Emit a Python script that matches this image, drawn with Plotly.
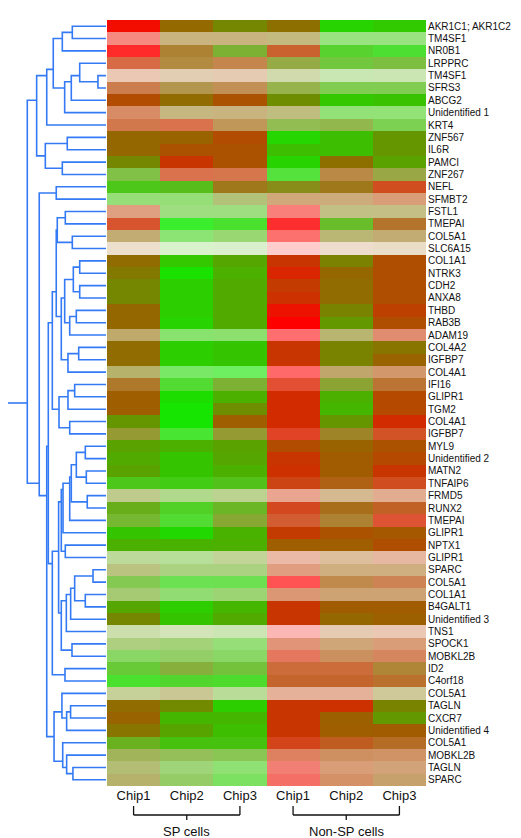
import plotly.graph_objects as go

W, H = 521, 838

genes = ["AKR1C1; AKR1C2", "TM4SF1", "NR0B1", "LRPPRC", "TM4SF1", "SFRS3", "ABCG2",
         "Unidentified 1", "KRT4", "ZNF567", "IL6R", "PAMCI", "ZNF267", "NEFL", "SFMBT2",
         "FSTL1", "TMEPAI", "COL5A1", "SLC6A15", "COL1A1", "NTRK3", "CDH2", "ANXA8", "THBD",
         "RAB3B", "ADAM19", "COL4A2", "IGFBP7", "COL4A1", "IFI16", "GLIPR1", "TGM2", "COL4A1",
         "IGFBP7", "MYL9", "Unidentified 2", "MATN2", "TNFAIP6", "FRMD5", "RUNX2", "TMEPAI",
         "GLIPR1", "NPTX1", "GLIPR1", "SPARC", "COL5A1", "COL1A1", "B4GALT1", "Unidentified 3",
         "TNS1", "SPOCK1", "MOBKL2B", "ID2", "C4orf18", "COL5A1", "TAGLN", "CXCR7",
         "Unidentified 4", "COL5A1", "MOBKL2B", "TAGLN", "SPARC"]

chip_labels = ["Chip1", "Chip2", "Chip3", "Chip1", "Chip2", "Chip3"]
groups = ["SP cells", "Non-SP cells"]
group_columns = [[0, 1, 2], [3, 4, 5]]

# expression ratio per gene and chip (-1 = green, +1 = red)
ratio = [
    [0.9, 0.1, -0.15, 0.05, -0.8, -0.72],
    [0.85, 0.1, 0.1, 0.0, -0.7, -0.7],
    [1.0, 0.15, -0.35, 0.45, -0.7, -0.85],
    [0.55, 0.15, 0.3, -0.2, -0.55, -0.45],
    [0.4, 0.2, 0.3, -0.2, -0.5, -0.45],
    [0.4, 0.1, 0.25, -0.25, -0.55, -0.55],
    [0.35, 0.08, 0.3, -0.2, -0.7, -0.65],
    [0.45, 0.05, 0.1, -0.05, -0.7, -0.7],
    [0.45, 0.55, 0.2, -0.35, -0.3, -0.6],
    [0.12, 0.15, 0.35, -0.82, -0.62, -0.28],
    [0.12, 0.3, 0.3, -0.62, -0.62, -0.28],
    [-0.15, 0.55, 0.3, -0.8, 0.05, -0.38],
    [-0.45, 0.55, 0.5, -0.85, 0.2, -0.15],
    [-0.65, -0.55, 0.1, -0.1, 0.1, 0.55],
    [-0.65, -0.65, -0.2, 0.25, 0.2, 0.4],
    [0.45, -0.6, -0.6, 0.9, -0.05, -0.03],
    [0.6, -1.0, -0.85, 1.0, -0.5, 0.25],
    [0.1, -0.75, -0.55, 0.95, -0.05, 0.1],
    [0.2, -0.6, -0.55, 0.95, 0.3, 0.15],
    [0.08, -0.7, -0.42, 0.55, -0.1, 0.33],
    [-0.03, -0.92, -0.5, 0.68, 0.12, 0.33],
    [-0.15, -0.75, -0.45, 0.5, 0.08, 0.33],
    [-0.15, -0.75, -0.45, 0.58, 0.08, 0.33],
    [0.12, -0.75, -0.45, 0.85, -0.12, 0.45],
    [0.12, -0.8, -0.45, 1.0, -0.3, 0.33],
    [0.08, -0.75, -0.7, 1.0, -0.05, 0.55],
    [0.08, -0.75, -0.68, 0.55, -0.12, 0.0],
    [0.08, -0.75, -0.68, 0.55, -0.12, 0.15],
    [-0.05, -0.85, -0.95, 1.0, 0.12, 0.35],
    [0.2, -0.8, -0.35, 0.7, -0.2, 0.3],
    [0.2, -0.88, -0.5, 0.63, -0.5, 0.38],
    [0.2, -0.95, -0.2, 0.63, -0.55, 0.38],
    [-0.28, -0.95, 0.2, 0.63, -0.28, 0.63],
    [-0.1, -0.9, -0.1, 0.7, 0.05, 0.55],
    [-0.38, -0.5, -0.38, 0.35, 0.15, 0.3],
    [-0.45, -0.68, -0.42, 0.55, 0.22, 0.38],
    [-0.38, -0.68, -0.5, 0.58, 0.22, 0.55],
    [-0.65, -0.7, -0.6, 0.55, 0.28, 0.55],
    [-0.2, -0.45, -0.3, 0.6, 0.2, 0.45],
    [-0.4, -0.7, -0.45, 0.6, 0.2, 0.4],
    [-0.42, -0.8, -0.25, 0.55, 0.15, 0.65],
    [-0.68, -0.85, -0.52, 0.5, 0.3, 0.25],
    [-0.5, -0.52, -0.5, 0.2, 0.2, 0.33],
    [-0.4, -0.5, -0.25, 0.5, 0.25, 0.45],
    [-0.15, -0.4, -0.4, 0.5, 0.2, 0.2],
    [-0.5, -0.8, -0.78, 1.0, 0.25, 0.4],
    [-0.35, -0.65, -0.5, 0.45, 0.25, 0.25],
    [-0.42, -0.75, -0.55, 0.55, 0.22, 0.22],
    [-0.15, -0.68, -0.45, 0.55, 0.12, 0.18],
    [-0.3, -0.35, -0.45, 0.9, 0.3, 0.4],
    [-0.35, -0.45, -0.65, 0.55, 0.25, 0.4],
    [-0.6, -0.5, -0.6, 0.65, 0.3, 0.45],
    [-0.6, -0.3, -0.5, 0.45, 0.45, 0.15],
    [-0.85, -0.75, -0.8, 0.42, 0.42, 0.3],
    [-0.2, -0.05, -0.45, 0.45, 0.45, 0.0],
    [0.08, -0.18, -0.75, 0.55, 0.58, -0.12],
    [0.15, -0.55, -0.55, 0.55, 0.18, -0.3],
    [0.0, -0.4, -0.62, 0.55, 0.2, 0.22],
    [-0.42, -0.62, -0.62, 0.6, 0.4, 0.28],
    [-0.2, -0.35, -0.45, 0.55, 0.35, 0.35],
    [-0.15, -0.5, -0.7, 0.8, 0.4, 0.3],
    [-0.05, -0.45, -0.75, 0.85, 0.4, 0.2],
]

# washed-out level of each cell (0 = saturated, 1 = white)
pale = [
    [0, 0, 0, 0, 0, 0],
    [0.5, 0.5, 0.5, 0.5, 0.5, 0.5],
    [0.17, 0.2, 0.2, 0.18, 0.18, 0.2],
    [0.27, 0.25, 0.3, 0.27, 0.24, 0.25],
    [0.7, 0.7, 0.7, 0.68, 0.7, 0.7],
    [0.3, 0.3, 0.33, 0.3, 0.32, 0.32],
    [0, 0, 0, 0, 0, 0],
    [0.4, 0.5, 0.5, 0.5, 0.47, 0.47],
    [0.3, 0.3, 0.35, 0.32, 0.3, 0.32],
    [0, 0, 0, 0, 0, 0],
    [0, 0, 0, 0, 0, 0],
    [0, 0, 0, 0, 0, 0],
    [0.28, 0.3, 0.3, 0.24, 0.27, 0.27],
    [0.1, 0.1, 0.1, 0.1, 0.1, 0.12],
    [0.47, 0.47, 0.47, 0.48, 0.48, 0.47],
    [0.5, 0.5, 0.5, 0.48, 0.52, 0.52],
    [0.18, 0.18, 0.18, 0.18, 0.17, 0.17],
    [0.45, 0.45, 0.45, 0.43, 0.45, 0.45],
    [0.8, 0.8, 0.8, 0.8, 0.8, 0.78],
    [0, 0, 0, 0, 0, 0],
    [0, 0, 0, 0, 0, 0],
    [0, 0, 0, 0, 0, 0],
    [0, 0, 0, 0, 0, 0],
    [0, 0, 0, 0, 0, 0],
    [0, 0, 0, 0, 0, 0],
    [0.42, 0.43, 0.43, 0.43, 0.44, 0.43],
    [0, 0, 0, 0, 0, 0],
    [0, 0, 0, 0, 0, 0],
    [0.42, 0.4, 0.38, 0.41, 0.42, 0.42],
    [0.17, 0.2, 0.2, 0.2, 0.2, 0.2],
    [0, 0, 0, 0, 0, 0],
    [0, 0, 0, 0, 0, 0],
    [0, 0, 0, 0, 0, 0],
    [0.2, 0.2, 0.2, 0.15, 0.15, 0.15],
    [0, 0, 0, 0, 0, 0],
    [0, 0, 0, 0, 0, 0],
    [0, 0, 0, 0, 0, 0],
    [0.1, 0.08, 0.1, 0.08, 0.08, 0.12],
    [0.55, 0.55, 0.57, 0.57, 0.57, 0.57],
    [0.1, 0.15, 0.15, 0.12, 0.1, 0.15],
    [0.2, 0.2, 0.2, 0.2, 0.2, 0.2],
    [0, 0, 0, 0, 0, 0],
    [0, 0, 0, 0, 0, 0],
    [0.6, 0.6, 0.6, 0.65, 0.62, 0.63],
    [0.5, 0.5, 0.5, 0.5, 0.5, 0.5],
    [0.32, 0.32, 0.32, 0.32, 0.3, 0.33],
    [0.45, 0.45, 0.45, 0.45, 0.45, 0.45],
    [0, 0, 0, 0, 0, 0],
    [0, 0, 0, 0, 0, 0],
    [0.68, 0.72, 0.7, 0.7, 0.7, 0.7],
    [0.5, 0.47, 0.47, 0.47, 0.47, 0.47],
    [0.4, 0.4, 0.4, 0.37, 0.37, 0.37],
    [0.22, 0.23, 0.23, 0.23, 0.23, 0.22],
    [0.18, 0.18, 0.18, 0.18, 0.18, 0.18],
    [0.6, 0.58, 0.6, 0.6, 0.6, 0.6],
    [0, 0, 0, 0, 0, 0],
    [0, 0, 0, 0, 0, 0],
    [0, 0, 0, 0, 0, 0],
    [0.12, 0.05, 0.05, 0.1, 0.12, 0.15],
    [0.35, 0.35, 0.33, 0.38, 0.38, 0.4],
    [0.45, 0.47, 0.45, 0.45, 0.47, 0.47],
    [0.42, 0.4, 0.38, 0.4, 0.4, 0.42],
]

# hierarchical clustering of genes: (node, left child, right child, merge distance)
# children are 1-based gene rows (int) or earlier node names (str)
tree = [
    ("A", 1, 2, 0.428), ("B", "A", 3, 0.555), ("C", 5, 6, 0.102), ("D", 4, "C", 0.334),
    ("E", "D", 7, 0.441), ("F", "E", 8, 0.525), ("G", "B", "F", 0.670), ("H", "G", 9, 0.753),
    ("I", 10, 11, 0.492), ("J", 12, 13, 0.555), ("K", "I", "J", 0.771), ("L", "H", "K", 0.881),
    ("N", 14, 15, 0.632), ("W1", 16, 17, 0.517), ("W2", 18, 19, 0.428), ("W3", "W1", "W2", 0.619),
    ("a1", 20, 21, 0.334), ("a2", 22, 23, 0.334), ("a7", "a1", "a2", 0.415),
    ("a3", 24, 25, 0.377), ("a5", "a3", 26, 0.461), ("a8", "a7", "a5", 0.525),
    ("a4", 27, 28, 0.347), ("a6", "a4", 29, 0.483), ("a9", "a8", "a6", 0.568),
    ("U", "W3", "a9", 0.632),
    ("b1", 30, 31, 0.398), ("b2", "b1", 32, 0.483), ("b4", 33, 34, 0.461), ("V", "b2", "b4", 0.597),
    ("S", "U", "V", 0.682),
    ("c1", 35, 36, 0.263), ("c3", 37, 38, 0.250), ("c2", "c1", "c3", 0.377), ("c4", 39, 40, 0.238),
    ("c5", "c2", "c4", 0.441), ("c6", "c5", 41, 0.461), ("c7", "c6", 42, 0.546),
    ("d1", 43, 44, 0.517), ("c8", "c7", "d1", 0.568),
    ("e1", 45, 46, 0.165), ("e2", 47, 48, 0.263), ("e3", "e1", "e2", 0.398), ("e4", "e3", 49, 0.449),
    ("e6", "e4", 50, 0.504), ("e5", 51, 52, 0.432), ("e", "e6", "e5", 0.568),
    ("c9", "c8", "e", 0.602), ("f", 53, 54, 0.521), ("T", "c9", "f", 0.682),
    ("Q", "S", "T", 0.733),
    ("r1", 56, 57, 0.45), ("r2", "r1", 58, 0.50), ("r3", 55, "r2", 0.56),
    ("r4", 61, 62, 0.42), ("r5", 60, "r4", 0.50), ("r6", 59, "r5", 0.55), ("R", "r3", "r6", 0.66),
    ("P", "Q", "R", 0.753), ("M", "N", "P", 0.848), ("root", "L", "M", 1.0),
]
root_stub = 1.245

# ---------- dendrogram geometry from the tree ----------
leaves, ypos, hgt = {}, {}, {}
for i in range(1, len(genes) + 1):
    leaves[i] = [i - 1]
    ypos[i] = i - 1
    hgt[i] = 0.0
dx, dy = [], []
for name, l, r, h in tree:
    leaves[name] = leaves[l] + leaves[r]
    ypos[name] = sum(leaves[name]) / len(leaves[name])
    hgt[name] = h
    dx += [hgt[l], h, h, hgt[r], None]
    dy += [ypos[l], ypos[l], ypos[r], ypos[r], None]
dx += [hgt["root"], root_stub, None]
dy += [ypos["root"], ypos["root"], None]

line_blue = "rgb(52,122,245)"
cols = list(range(len(chip_labels)))
rows = list(range(len(genes)))

fig = go.Figure()
fig.add_trace(go.Heatmap(
    z=ratio, x=cols, y=rows, zmin=-1, zmax=1, showscale=False, hoverinfo="skip",
    colorscale=[[0, "rgb(15,235,0)"], [0.5, "rgb(135,117,0)"], [1, "rgb(255,0,0)"]],
))
fig.add_trace(go.Heatmap(
    z=pale, x=cols, y=rows, zmin=0, zmax=1, showscale=False, hoverinfo="skip",
    colorscale=[[0, "rgba(255,255,255,0)"], [1, "rgba(255,255,255,1)"]],
))
fig.add_trace(go.Scatter(
    x=dx, y=dy, xaxis="x2", yaxis="y", mode="lines",
    line=dict(color=line_blue, width=1.6), hoverinfo="skip", showlegend=False,
))

top_px, bot_px = 12, 778
hm_left, hm_right = 99, 418
font_family = "Liberation Sans, Arial, sans-serif"

fig.update_layout(
    width=W, height=H, margin=dict(l=0, r=0, t=0, b=0),
    paper_bgcolor="white", plot_bgcolor="white", showlegend=False,
    xaxis=dict(domain=[hm_left / W, hm_right / W], range=[-0.5, 5.5], showgrid=False,
               zeroline=False, showline=False, ticks="", tickvals=cols, ticktext=chip_labels,
               tickfont=dict(family=font_family, size=13, color="#111"), ticklabelstandoff=0),
    yaxis=dict(domain=[1 - bot_px / H, 1 - top_px / H], range=[len(genes) - 0.5, -0.5],
               showgrid=False, zeroline=False, showline=False, ticks="", side="right",
               tickvals=rows, ticktext=genes, ticklabelstandoff=1,
               tickfont=dict(family=font_family, size=10, color="#111")),
    xaxis2=dict(domain=[0, 98 / W], range=[root_stub, 0], anchor="y", showgrid=False,
                zeroline=False, showline=False, showticklabels=False, ticks=""),
)

# group brackets
line_y = 1 - 807 / H
end_y = 1 - 798 / H
mid_y = 1 - 812 / H
for g, cl in zip(groups, group_columns):
    x0, x1 = cl[0], cl[-1]
    xm = (x0 + x1) / 2
    fig.add_shape(type="line", xref="x", yref="paper", x0=x0, x1=x1, y0=line_y, y1=line_y,
                  line=dict(color="#111", width=1.3))
    for xe in (x0, x1):
        fig.add_shape(type="line", xref="x", yref="paper", x0=xe, x1=xe, y0=line_y, y1=end_y,
                      line=dict(color="#111", width=1.3))
    fig.add_shape(type="line", xref="x", yref="paper", x0=xm, x1=xm, y0=line_y, y1=mid_y,
                  line=dict(color="#111", width=1.3))
    fig.add_annotation(x=xm, xref="x", y=1 - 823 / H, yref="paper", text=g, showarrow=False,
                       font=dict(family=font_family, size=13, color="#111"),
                       xanchor="center", yanchor="middle")

fig.write_html("out.html")
